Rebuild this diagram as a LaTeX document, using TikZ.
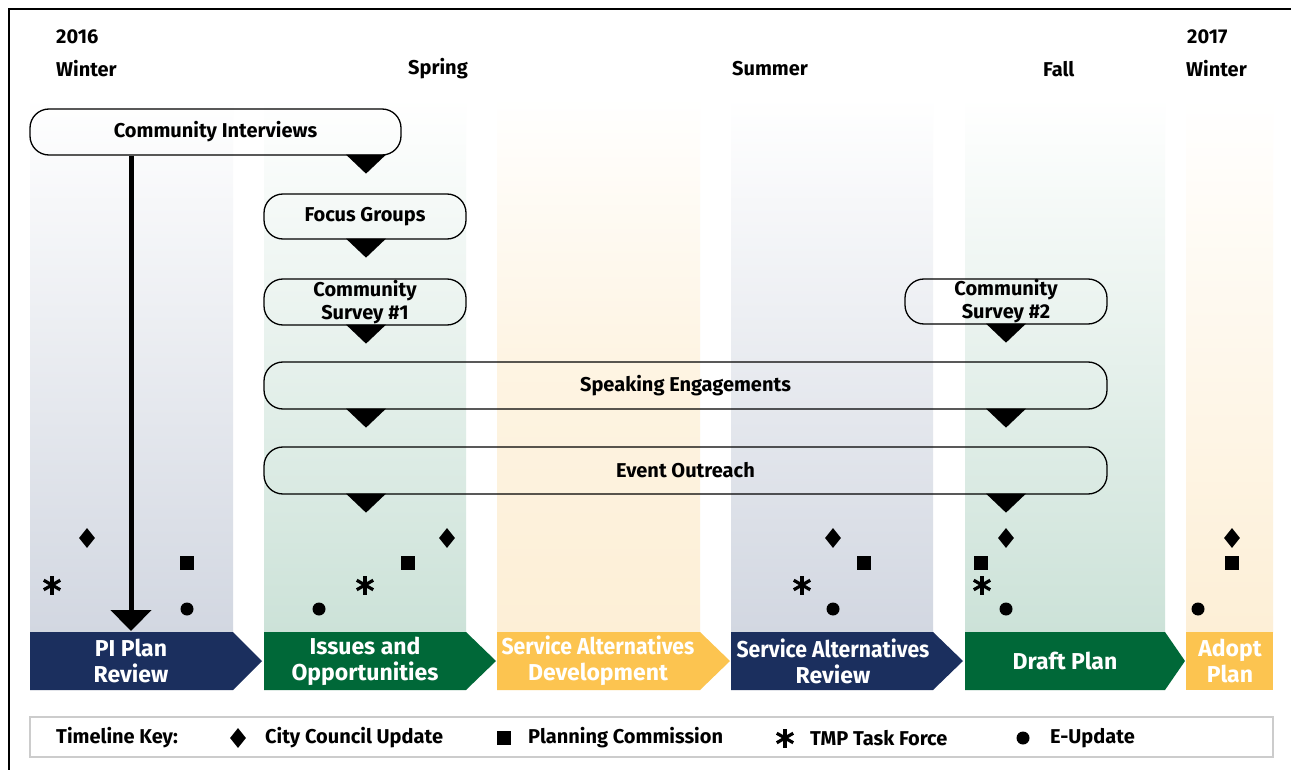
\documentclass[tikz,border=0pt]{standalone}
\usepackage{fontspec}
\setmainfont{Fira Sans}
\usetikzlibrary{shapes.geometric,arrows.meta,calc}
\definecolor{navy}{HTML}{1B2F5E}
\definecolor{dgreen}{HTML}{006838}
\definecolor{gold}{HTML}{FCC450}
\definecolor{colnavy}{HTML}{D2D7E1}
\definecolor{colgreen}{HTML}{CCE2D8}
\definecolor{colgold}{HTML}{FDEFD6}
\begin{document}
\begin{tikzpicture}[x=1pt,y=-1pt,
  head/.style={anchor=west, font=\bfseries\fontsize{20}{22}\selectfont, inner sep=0pt},
  pbox/.style={draw=black, line width=1.3pt, rounded corners=19pt, font=\bfseries\fontsize{20}{23}\selectfont, align=center, inner sep=0pt},
  bartext/.style={text=white, font=\bfseries\fontsize{23}{26}\selectfont, align=center, inner sep=0pt},
  keytext/.style={anchor=west, font=\bfseries\fontsize{20}{22}\selectfont, inner sep=0pt},
  diam/.pic={\node[diamond, fill=black, minimum width=16pt, minimum height=20pt, inner sep=0pt]{};},
  sq/.pic={\fill (-7,-7) rectangle (7,7);},
  dot/.pic={\fill (0,0) circle (6.5pt);},
  ast/.pic={\foreach \a in {90,30,-30}{\draw[line width=3.2pt] (\a:9.5) -- (\a+180:9.5);}}
]
\useasboundingbox (0,0) rectangle (1291,770);
\fill[white] (0,0) rectangle (1291,770);
% frame
\draw[line width=1.6pt] (9,770) -- (9,9) -- (1291,9);
% column backgrounds
\shade[top color=white, bottom color=colnavy] (30,97) rectangle (233,632);
\shade[top color=white, bottom color=colgreen] (264,97) rectangle (466,632);
\shade[top color=white, bottom color=colgold, middle color=colgold!70] (497,97) rectangle (700,632);
\shade[top color=white, bottom color=colnavy] (731,97) rectangle (933,632);
\shade[top color=white, bottom color=colgreen] (965,97) rectangle (1165,632);
\shade[top color=white, bottom color=colgold] (1186,97) rectangle (1273,632);
% headings
\node[head] (y16) at (56,37) {2016};
\node[head] (w16) at (56,69) {Winter};
\node[head] (spr) at (408,69) {Spring};
\node[head] (sum) at (732,69) {Summer};
\node[head] (fal) at (1043,69) {Fall};
\node[head] (y17) at (1187,37) {2017};
\node[head] (w17) at (1186,69) {Winter};
% x positions
\coordinate (xA) at (131,0);
\coordinate (xI) at (366,0);
\coordinate (xD) at (1006,0);
% boxes
\node[pbox, minimum width=371pt, minimum height=46pt] (ci) at (215.5,132) {Community Interviews};
\node[pbox, minimum width=202pt, minimum height=45pt] (fg) at (365,216.5) {Focus Groups};
\node[pbox, minimum width=202pt, minimum height=46pt] (cs1) at (365,302) {Community\\Survey \#1};
\node[pbox, minimum width=202pt, minimum height=45pt] (cs2) at (1006,301.5) {Community\\Survey \#2};
\node[pbox, minimum width=843pt, minimum height=47pt] (se) at (685.5,385.5) {Speaking Engagements};
\node[pbox, minimum width=843pt, minimum height=47pt] (eo) at (685.5,470.5) {Event Outreach};
% down triangles
\foreach \b/\x in {ci/xI, fg/xI, cs1/xI, cs2/xD, se/xI, se/xD, eo/xI, eo/xD}{
  \fill (\b.south -| \x) ++(-20,-1) -- ++(40,0) -- ++(-20,19) -- cycle;
}
% long arrow
\coordinate (arrEnd) at (131,631);
\draw[line width=5pt, -{Triangle[width=40pt,length=21pt]}] (ci.south -| xA) -- (arrEnd);
% bars
\fill[navy] (30,632) -- (233,632) -- (262,661) -- (233,690) -- (30,690) -- cycle;
\fill[dgreen] (264,632) -- (466,632) -- (496,661) -- (466,690) -- (264,690) -- cycle;
\fill[gold] (497,632) -- (700,632) -- (730,661) -- (700,690) -- (497,690) -- cycle;
\fill[navy] (731,632) -- (933,632) -- (963,661) -- (933,690) -- (731,690) -- cycle;
\fill[dgreen] (965,632) -- (1165,632) -- (1185,661) -- (1165,690) -- (965,690) -- cycle;
\fill[gold] (1186,632) rectangle (1273,690);
\node[bartext] (b1) at (131,661) {PI Plan\\Review};
\node[bartext] (b2) at (365,661) {Issues and\\Opportunities};
\node[bartext] (b3) at (598,661) {\scalebox{0.92}[1]{Service Alternatives}\\Development};
\node[bartext] (b4) at (833,661) {\scalebox{0.92}[1]{Service Alternatives}\\Review};
\node[bartext] (b5) at (1065,661) {Draft Plan};
\node[bartext] (b6) at (1230,661) {Adopt\\Plan};
% markers
\pic at (87,538) {diam};  \pic at (187,563) {sq};  \pic at (52,585) {ast};  \pic at (187,609) {dot};
\pic at (447,538) {diam}; \pic at (408,563) {sq};  \pic at (365,585) {ast}; \pic at (319,609) {dot};
\pic at (833,538) {diam}; \pic at (864,563) {sq};  \pic at (802,585) {ast}; \pic at (833,609) {dot};
\pic at (1006,538) {diam};\pic at (981,563) {sq};  \pic at (982,585) {ast}; \pic at (1006,609) {dot};
\pic at (1232,538) {diam};\pic at (1232,563) {sq}; \pic at (1198,609) {dot};
% key
\node[draw=black!20, line width=1.5pt, fill=white, minimum width=1243pt, minimum height=40pt, inner sep=0pt] (key) at (651.5,737) {};
\node[keytext] (k0) at (56,738) {Timeline Key:};
\pic at (238,738) {diam};
\node[keytext] (k1) at (265,738) {City Council Update};
\pic at (504,738) {sq};
\node[keytext] (k2) at (528,738) {Planning Commission};
\pic at (785,738) {ast};
\node[keytext] (k3) at (810,738) {TMP Task Force};
\pic at (1023,738) {dot};
\node[keytext] (k4) at (1050,738) {E-Update};
\end{tikzpicture}
\end{document}
